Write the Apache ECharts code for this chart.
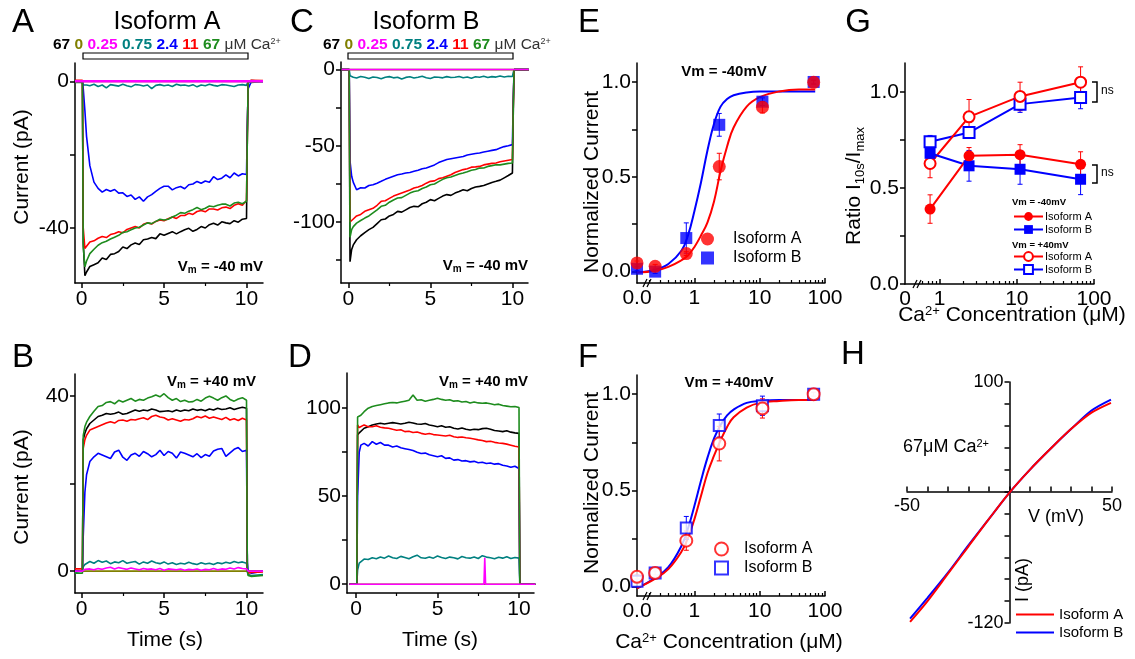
<!DOCTYPE html>
<html><head><meta charset="utf-8">
<script src="https://cdn.jsdelivr.net/npm/echarts@6/dist/echarts.min.js"></script>
<style>html,body{margin:0;padding:0;background:#fff}#c{width:1135px;height:659px}</style>
</head><body><div id="c"></div>
<script>
// ---------------- DATA ----------------
// time base for current traces (s)
const tTrace = [-0.4, 0.05, 0.1, 0.2, 0.3, 0.5, 0.75, 1, 1.25, 1.5, 1.75, 2, 2.25, 2.5, 2.75, 3, 3.25, 3.5, 3.75, 4, 4.25, 4.5, 4.75, 5, 5.25, 5.5, 5.75, 6, 6.25, 6.5, 6.75, 7, 7.25, 7.5, 7.75, 8, 8.25, 8.5, 8.75, 9, 9.25, 9.5, 9.75, 10, 10.05, 10.1, 10.3, 11];
const tFlat = [-0.4, 11];
const flatZero = [0, 0];
const caLabels = ['67', '0', '0.25', '0.75', '2.4', '11', '67'];

// Panel A: Isoform A, Vm = -40 mV (pA)
const aBlack = [0, 0, -44, -53, -52, -50.5, -50, -49.5, -48.2, -48.6, -47.2, -47, -46.4, -45.2, -45.6, -44.6, -44.1, -44.5, -43.2, -43, -42.6, -42.9, -41.6, -42, -41.5, -41, -41.6, -41, -40.5, -40.1, -40.9, -40.4, -39.6, -40, -39.1, -38.7, -39.2, -38.3, -38.6, -38.8, -38, -38.4, -37.6, -37.4, -15, 0, 0.2, 0];
const aRed = [0.3, 0.3, -40, -45.6, -45, -43.8, -43.5, -42.8, -42.3, -42.6, -41.8, -41.5, -41, -41.3, -40.4, -40, -39.6, -40, -39, -38.6, -38.9, -38.2, -37.8, -38, -37.5, -37, -37.4, -36.6, -36.6, -36, -36.3, -35.5, -35.2, -35.6, -34.8, -34.8, -35.1, -34.5, -34.3, -34.7, -33.8, -33.4, -33.8, -32.5, -15, 0, 0.3, 0.2];
const aGreen = [-0.3, -0.3, -45, -50.6, -49, -47, -45.8, -44.7, -44, -43.6, -43, -42.5, -42, -41.2, -41, -40.5, -40, -39.8, -39.2, -38.6, -38.8, -38.2, -37.6, -37.8, -37.6, -37, -36.5, -35.8, -36, -35.4, -35, -34.4, -35, -34.6, -34, -34.2, -33.8, -33.5, -33.5, -34, -33.2, -33, -33.4, -32.7, -15, 0, -0.3, 0];
const aBlue = [0, 0, -2, -8, -15, -23, -27.5, -29.2, -30.2, -29.5, -30, -29.5, -30.5, -30.4, -31.4, -31, -32.2, -31.5, -32.7, -31.5, -30.9, -30, -29.2, -28.6, -28.6, -29.6, -29, -28.7, -29.3, -28.2, -28, -27.3, -27.8, -27.2, -27.5, -26, -26.8, -26.4, -25.5, -26.3, -25, -25.8, -25.2, -25.4, -12, -2, 0, 0];
const aTeal = [0, -0.3, -1, -1.2, -1, -1.2, -0.8, -1.4, -1, -1.8, -0.9, -1.1, -1.3, -0.8, -1.2, -1.5, -0.9, -1, -1.3, -1, -2, -1.1, -0.9, -1.2, -1, -1.4, -0.8, -1.1, -1, -1.3, -0.9, -1.5, -1, -1.2, -0.8, -1.1, -1.3, -0.9, -1, -1.2, -1.4, -1, -0.9, -1.1, -0.5, 0, 0, 0];

// Panel B: Isoform A, Vm = +40 mV (pA)
const bBlack = [0, 0, 30, 31.5, 32.5, 33.7, 34.5, 35.3, 35.6, 36, 35.8, 36, 36.3, 35.8, 36, 36.4, 36.8, 36.5, 36.8, 36.6, 37, 36.8, 36.4, 36.5, 36.6, 36.4, 36.8, 36.5, 36.8, 36.6, 37, 36.7, 36.9, 36.6, 37, 36.8, 37.2, 36.9, 37, 37.3, 36.9, 37.2, 37.4, 37.2, 0, 0, 0, 0];
const bRed = [0.5, 0.5, 28, 30, 31, 32.2, 32.6, 33, 33.4, 33.8, 34.1, 33.8, 34.4, 34.5, 34.2, 34.6, 34.5, 34.8, 35, 34.6, 35.3, 35.6, 35.2, 35, 34.5, 34.8, 34.5, 34.2, 34.6, 34.5, 34.8, 35.3, 35, 35.4, 34.9, 35.2, 34.9, 34.6, 35.1, 34.5, 34.8, 34.4, 34.9, 34.5, 0, -0.5, -0.3, -0.2];
const bGreen = [-0.5, -0.5, 31, 33, 34, 35.3, 36.5, 37.6, 37.8, 38.5, 38.7, 38.2, 39, 38.6, 39, 39.4, 38.8, 39.2, 39, 39.5, 39.8, 40.2, 39.8, 40.5, 39.6, 39, 39.4, 38.7, 39, 38.6, 38.7, 39.2, 38.8, 39.5, 39.9, 39.5, 39, 39.6, 40, 39.2, 38.8, 39.3, 39.6, 39, 0, -1, -1.2, -1];
const bBlue = [0, 0, 8, 18, 22, 25, 26.1, 26.9, 26.5, 26.1, 25.7, 27.2, 27.6, 26, 25.3, 26.5, 26.9, 26.2, 27.3, 26.8, 26.1, 26.6, 27.6, 26.4, 27.3, 26.9, 25.8, 27.2, 26.9, 26.5, 26.1, 26.8, 25.9, 26.6, 26.2, 27.4, 27.8, 28, 26.2, 27, 27.8, 28.2, 27.3, 27.6, 2, 0, -0.5, 0];
const bTeal = [-0.3, 0, 1, 1.5, 1.8, 2.2, 1.8, 2.4, 2, 2.3, 1.7, 2.1, 1.9, 2.4, 1.8, 2, 2.2, 1.6, 2.1, 1.8, 2.3, 1.9, 1.7, 2.1, 1.6, 1.9, 1.5, 1.8, 1.6, 2, 1.7, 1.5, 1.9, 1.6, 1.8, 1.5, 1.9, 1.7, 2, 1.8, 2.2, 1.9, 2.1, 1.8, 0, -0.8, -1, -0.8];
const bMagenta = [0, 0, 0.3, 0.4, 0.5, 0.5, 0.3, 0.6, 0.4, 0.7, 0.9, 0.5, 0.8, 0.6, 0.4, 0.7, 0.5, 0.3, 0.6, 0.4, 0.5, 0.3, 0.6, 0.2, 0.5, 0.4, 0.3, 0.5, 0.2, 0.4, 0.3, 0.5, 0.2, 0.4, 0.3, 0.6, 0.3, 0.5, 0.4, 0.7, 0.5, 0.8, 0.6, 0.5, 0.2, 0, 0, 0];

// Panel C: Isoform B, Vm = -40 mV (pA)
const cBlack = [0, 0, -126, -118, -115, -111.6, -109, -107, -105, -103.5, -101, -98.5, -98, -96, -95, -93, -93.5, -92, -90.5, -89.7, -90, -88, -87, -85.3, -86, -84.5, -83, -82, -82.5, -81, -80, -78.8, -79.5, -78, -77, -76.6, -76, -75, -74, -73.3, -72.5, -71, -69.5, -67.8, -30, 0, 0, 0];
const cRed = [0, 0, -100, -99, -98, -96, -95, -93, -92, -91, -89, -86.4, -86, -84.5, -83, -82, -81, -80, -79, -77.7, -77, -76, -74.5, -73.3, -73, -71.5, -71, -70, -69, -67.5, -66.5, -65.6, -65, -64, -63.8, -63.5, -62.5, -62, -61.5, -61.3, -60.5, -60, -59.5, -59, -25, 0, 0, 0];
const cGreen = [0, 0, -110, -105, -103, -100.7, -99, -97.4, -96, -94, -92, -89.7, -89, -87, -85.5, -84.2, -84, -82.5, -81, -80, -79.5, -78, -77, -75.5, -75, -73.5, -72, -71, -70.5, -69.5, -68.5, -67.8, -67, -66, -65.5, -64.6, -64.5, -63.5, -63, -62.4, -62.5, -62, -61.5, -61.3, -25, 0, 0, 0];
const cBlue = [0, 0, -60, -70, -74, -78.8, -77.5, -77.7, -76, -75.5, -74.5, -73.3, -72, -71, -70, -69, -68.5, -67.8, -67.5, -66.7, -66, -65, -64.5, -63.5, -62.5, -61, -60, -59, -58.5, -58, -57.5, -57, -56, -55.5, -55, -54.7, -54, -53.5, -53, -52.5, -51.5, -50.5, -50, -49.2, -20, 0, 0, 0];
const cTeal = [0, 0, -4, -5, -5, -5.5, -4.5, -5, -5.8, -4.8, -5.2, -6, -5, -4.6, -5.4, -5, -6.2, -5.1, -4.7, -5.5, -5, -4.4, -5.3, -5.8, -4.9, -5, -5.4, -4.6, -5.2, -5, -4.5, -5.3, -4.8, -5.6, -4.7, -5, -4.4, -5.2, -4.6, -4.9, -4.2, -4.8, -4.4, -4.5, -2, 0, 0, 0];

// Panel D: Isoform B, Vm = +40 mV (pA)
const dBlack = [0, 0, 84.8, 86, 87, 88.6, 89.5, 90.5, 91, 91.4, 91, 91.4, 91.8, 91.4, 91, 91.4, 92, 91.6, 91, 90.9, 91.3, 90.5, 90, 89.5, 90, 89.2, 89.5, 88.6, 88.2, 88.8, 88, 87.6, 88, 87.8, 88.4, 88.6, 88, 87.3, 87, 86.7, 87.2, 86.4, 86, 85.7, 0, 0, 0, 0];
const dRed = [0, 0, 90.5, 89, 90, 90.5, 89.5, 89.5, 90, 89.2, 88.8, 88.6, 88, 87.5, 87.8, 86.7, 86.9, 86.2, 86.5, 85.7, 85.2, 85.6, 85, 84.8, 84.5, 84.2, 84.6, 83.8, 83.4, 83.6, 83.2, 82.9, 82.5, 82, 81.6, 81, 81.2, 80.6, 80.2, 80, 79.6, 79, 78.4, 78, 0, 0, 0, 0];
const dGreen = [0, 0, 95, 94, 96, 98, 100, 101, 101.5, 102, 102.5, 103, 103.2, 103, 103.5, 104, 104.5, 107.5, 104.5, 104.8, 104, 104.5, 105, 105.7, 105, 104.5, 104.8, 104, 104.2, 103.5, 103.8, 103, 103.5, 103, 102.8, 103, 102.5, 102, 102.3, 101.5, 101.2, 100.8, 101, 100.4, 0, 0, 0, 0];
const dBlue = [0, 0, 50, 75, 79, 80, 78.5, 81, 79.5, 80.5, 79, 79, 78, 78.5, 77.5, 77, 76.5, 76, 75, 74.3, 74.5, 73.5, 73, 72.4, 73, 71.5, 71.8, 70.5, 70.8, 70, 70.2, 69.5, 69.8, 69, 69.3, 68.6, 68.9, 68.2, 68.5, 67.6, 67.2, 66.5, 67, 65.7, 0, 0, 0, 0];
const dTeal = [0, 0, 8, 12, 13, 14.3, 14, 15, 14.5, 15.5, 14.8, 16, 15, 14.6, 15.8, 15.2, 14.5, 15.6, 16.5, 15, 14.7, 15.5, 14.8, 16, 15.2, 14.6, 15.4, 15, 14.4, 15.7, 15, 14.8, 15.5, 14.6, 16.2, 15.4, 15, 14.5, 15.3, 14.8, 15.6, 14.6, 15.2, 14.8, 0, 0, 0, 0];
const tMagD = [-0.4, 7.85, 7.9, 7.95, 11];
const dMagenta = [0, 0, 15, 0, 0];

// Panels E/F: dose-response (Ca2+ in µM)
const conc = [0, 0.25, 0.75, 2.4, 11, 67];
const eA = [0.046, 0.028, 0.095, 0.554, 0.867, 0.998];
const eAerr = [0.01, 0.01, 0.01, 0.07, 0.03, 0.01];
const eB = [0.015, 0.0, 0.177, 0.774, 0.896, 1.0];
const eBerr = [0.01, 0.01, 0.08, 0.06, 0.02, 0.01];
const fA = [0.05, 0.07, 0.238, 0.743, 0.926, 1.0];
const fAerr = [0.01, 0.02, 0.05, 0.09, 0.05, 0.01];
const fB = [0.027, 0.07, 0.304, 0.837, 0.94, 1.0];
const fBerr = [0.01, 0.01, 0.06, 0.06, 0.05, 0.01];
// fitted curves (x = log10 concentration)
const fitLogC = [-0.88, -0.6, -0.4, -0.2, -0.1, 0, 0.1, 0.2, 0.3, 0.4, 0.5, 0.6, 0.8, 1.0, 1.3, 1.6, 1.85];
const eFitA = [-0.005, 0.005, 0.025, 0.06, 0.085, 0.13, 0.19, 0.26, 0.37, 0.53, 0.66, 0.76, 0.87, 0.92, 0.95, 0.96, 0.96];
const eFitB = [-0.005, 0.01, 0.04, 0.11, 0.19, 0.32, 0.47, 0.64, 0.78, 0.87, 0.91, 0.93, 0.945, 0.95, 0.95, 0.95, 0.95];
const fFitA = [-0.01, 0.04, 0.09, 0.18, 0.25, 0.35, 0.47, 0.59, 0.68, 0.76, 0.83, 0.88, 0.93, 0.955, 0.965, 0.97, 0.97];
const fFitB = [-0.01, 0.045, 0.1, 0.21, 0.3, 0.42, 0.55, 0.67, 0.77, 0.84, 0.89, 0.92, 0.955, 0.965, 0.97, 0.97, 0.97];

// Panel G: ratio I10s/Imax
const concG = [0.75, 2.4, 11, 67];
const gAneg = [0.39, 0.667, 0.673, 0.623];
const gAnegErr = [0.074, 0.043, 0.052, 0.065];
const gBneg = [0.68, 0.615, 0.597, 0.545];
const gBnegErr = [0.04, 0.08, 0.078, 0.08];
const gApos = [0.627, 0.87, 0.976, 1.05];
const gAposErr = [0.074, 0.09, 0.074, 0.08];
const gBpos = [0.74, 0.788, 0.936, 0.97];
const gBposErr = [0.033, 0.02, 0.043, 0.058];

// Panel H: I-V at 67 µM Ca2+
const vH = [-48.5, -40, -30, -20, -10, 0, 10, 20, 30, 40, 49.5];
const hA = [-119, -100, -75, -50, -25, -1, 20, 39, 57, 72, 81];
const hB = [-116, -97, -74, -49, -25, -1, 20, 39, 57, 74, 84];

// ---------------- BUILD ----------------
const FONT = 'Liberation Sans, Arial, Helvetica, sans-serif';
const COL = {black:'#000000', olive:'#808000', magenta:'#ff00ff', teal:'#008080', blue:'#0000ff', red:'#ff0000', green:'#1e8c1e'};
function zip(t, v) {
  if (t.length !== v.length) throw new Error('length mismatch ' + t.length + ' vs ' + v.length);
  return t.map((x, i) => [x, v[i]]);
}
const LOG_ZERO_EF = -0.88, LOG_ZERO_G = -0.45;
const lx = (c, z) => c === 0 ? z : Math.log10(c);

const grids = [
  {left:75, top:63, width:188, height:220},   // A
  {left:75, top:374, width:188, height:219},  // B
  {left:341, top:62, width:187, height:221},  // C
  {left:347, top:373, width:187, height:220}, // D
  {left:637, top:63, width:188, height:220},  // E
  {left:637, top:375, width:188, height:221}, // F
  {left:905, top:63, width:189, height:221},  // G
  {left:907, top:382, width:205, height:241}  // H
].map(g => Object.assign({outerBoundsMode:'none', containLabel:false}, g));

const AX = {color:'#000', width:1.5};
function mainAxis(grid, min, max, ticks, labels, o) {
  o = o || {};
  return {
    gridIndex: grid, type:'value', min, max, position: o.position, offset: o.offset || 0,
    axisLine:{show:true, onZero:false, lineStyle:AX},
    axisTick:{show:true, customValues:ticks, inside: !!o.inside, length: o.tickLen || 5, lineStyle:AX},
    axisLabel:{show:true, customValues:labels, fontSize: o.fs || 21, color:'#000', fontFamily:FONT, margin: o.margin || 6, formatter: o.fmt},
    splitLine:{show:false}
  };
}
function minorAxis(grid, min, max, ticks, inside) {
  return {
    gridIndex: grid, type:'value', min, max, position:'bottom',
    axisLine:{show:false, onZero:false},
    axisTick:{show:true, customValues:ticks, inside: !!inside, length:3, lineStyle:{color:'#000', width:1.2}},
    axisLabel:{show:false}, splitLine:{show:false}
  };
}
const logMinor = [];
[-1, 0, 1].forEach(k => { for (let m = 2; m <= 9; m++) logMinor.push(Math.log10(m) + k); });
const minorEF = logMinor.filter(v => v > -0.72);
const minorG = logMinor.filter(v => v > -0.25);
const fmtLogEF = v => v < -0.5 ? '0.0' : String(Math.round(Math.pow(10, v)));
const fmtLogG = v => v < -0.3 ? '0' : String(Math.round(Math.pow(10, v)));
const fmt1 = v => v.toFixed(1);
// H axes cross at the origin: shift them into the grid
const hGrid = grids[7];
const hYoff = -(hGrid.width * (0 - (-50)) / 100);          // y-axis line at V = 0
const hXoff = -(hGrid.height * (0 - (-120)) / 220);        // x-axis line at I = 0

const xAxis = [
  mainAxis(0, -0.4, 11, [0,5,10], [0,5,10], {position:'bottom'}),
  mainAxis(1, -0.4, 11, [0,5,10], [0,5,10], {position:'bottom'}),
  mainAxis(2, -0.45, 10.95, [0,5,10], [0,5,10], {position:'bottom'}),
  mainAxis(3, -0.55, 10.92, [0,5,10], [0,5,10], {position:'bottom'}),
  mainAxis(4, LOG_ZERO_EF, 2, [0,1,2], [LOG_ZERO_EF,0,1,2], {position:'bottom', inside:true, fmt:fmtLogEF, margin:5}),
  mainAxis(5, LOG_ZERO_EF, 2, [0,1,2], [LOG_ZERO_EF,0,1,2], {position:'bottom', inside:true, fmt:fmtLogEF, margin:5}),
  mainAxis(6, LOG_ZERO_G, 2, [0,1,2], [LOG_ZERO_G,0,1,2], {position:'bottom', inside:true, fmt:fmtLogG, margin:5}),
  mainAxis(7, -50, 50, [-50,-40,-30,-20,-10,0,10,20,30,40,50], [-50,50], {position:'bottom', offset:hXoff, inside:true, fs:18, margin:5}),
  minorAxis(0, -0.4, 11, [2.5,7.5]),
  minorAxis(1, -0.4, 11, [2.5,7.5]),
  minorAxis(2, -0.45, 10.95, [2.5,7.5]),
  minorAxis(3, -0.55, 10.92, [2.5,7.5]),
  minorAxis(4, LOG_ZERO_EF, 2, minorEF, true),
  minorAxis(5, LOG_ZERO_EF, 2, minorEF, true),
  minorAxis(6, LOG_ZERO_G, 2, minorG, true)
];
const yAxis = [
  mainAxis(0, -55, 5, [-40,-20,0], [-40,0], {position:'left'}),
  mainAxis(1, -5, 45, [0,20,40], [0,40], {position:'left'}),
  mainAxis(2, -140, 5, [-125,-100,-75,-50,-25,0], [-100,-50,0], {position:'left'}),
  mainAxis(3, -5, 120, [0,25,50,75,100], [0,50,100], {position:'left'}),
  mainAxis(4, -0.06, 1.1, [0,0.25,0.5,0.75,1], [0,0.5,1], {position:'left', fmt:fmt1}),
  mainAxis(5, -0.05, 1.1, [0,0.25,0.5,0.75,1], [0,0.5,1], {position:'left', fmt:fmt1}),
  mainAxis(6, 0, 1.15, [0,0.25,0.5,0.75,1], [0,0.5,1], {position:'left', fmt:fmt1}),
  mainAxis(7, -120, 100, [-120,-100,-80,-60,-40,-20,0,20,40,60,80,100], [-120,100], {position:'left', offset:hYoff, fs:18, margin:6})
];

const series = [];
function trace(gi, t, v, color, w) {
  series.push({type:'line', xAxisIndex:gi, yAxisIndex:gi, data:zip(t, v), showSymbol:false, symbol:'none',
    lineStyle:{color, width: w || 1.6}, silent:true, z:2});
}
// A
trace(0, tTrace, aBlack, COL.black); trace(0, tFlat, flatZero, COL.olive); trace(0, tTrace, aTeal, COL.teal);
trace(0, tTrace, aBlue, COL.blue); trace(0, tTrace, aRed, COL.red); trace(0, tTrace, aGreen, COL.green);
trace(0, tFlat, flatZero, COL.magenta, 2.5);
// B
trace(1, tTrace, bBlack, COL.black); trace(1, tFlat, flatZero, COL.olive); trace(1, tTrace, bTeal, COL.teal);
trace(1, tTrace, bBlue, COL.blue); trace(1, tTrace, bRed, COL.red); trace(1, tTrace, bGreen, COL.green);
trace(1, tTrace, bMagenta, COL.magenta);
// C
trace(2, tTrace, cBlack, COL.black); trace(2, tFlat, flatZero, COL.olive); trace(2, tTrace, cTeal, COL.teal);
trace(2, tTrace, cBlue, COL.blue); trace(2, tTrace, cRed, COL.red); trace(2, tTrace, cGreen, COL.green);
trace(2, tFlat, flatZero, COL.magenta, 1.5);
// D
trace(3, tTrace, dBlack, COL.black); trace(3, tFlat, flatZero, COL.olive); trace(3, tTrace, dTeal, COL.teal);
trace(3, tTrace, dBlue, COL.blue); trace(3, tTrace, dRed, COL.red); trace(3, tTrace, dGreen, COL.green);
trace(3, tMagD, dMagenta, COL.magenta);

function errBars(gi, xs, ys, es, color, z) {
  const data = xs.map((x, i) => [x, ys[i], es[i]]);
  series.push({type:'custom', xAxisIndex:gi, yAxisIndex:gi, data, silent:true, z: z || 3,
    encode:{x:0, y:1},
    renderItem: (params, api) => {
      const x = api.value(0), y = api.value(1), e = api.value(2);
      const p1 = api.coord([x, y + e]), p2 = api.coord([x, y - e]); const w = 2.5;
      const st = {stroke:color, lineWidth:1};
      return {type:'group', children:[
        {type:'line', shape:{x1:p1[0], y1:p1[1], x2:p2[0], y2:p2[1]}, style:st},
        {type:'line', shape:{x1:p1[0]-w, y1:p1[1], x2:p1[0]+w, y2:p1[1]}, style:st},
        {type:'line', shape:{x1:p2[0]-w, y1:p2[1], x2:p2[0]+w, y2:p2[1]}, style:st}]};
    }});
}
function curve(gi, xs, ys, color) {
  series.push({type:'line', xAxisIndex:gi, yAxisIndex:gi, data:zip(xs, ys), smooth:0.4, showSymbol:false, symbol:'none',
    lineStyle:{color, width:2}, silent:true, z:2});
}
function scatter(gi, name, xs, ys, symbol, size, color) {
  series.push({type:'scatter', name, xAxisIndex:gi, yAxisIndex:gi, data:zip(xs, ys), symbol, symbolSize:size,
    itemStyle:{color, borderColor:color, borderWidth: symbol.startsWith('empty') ? 1.3 : 0}, z:4});
}
const xEF = conc.map(c => lx(c, LOG_ZERO_EF));
// E
curve(4, fitLogC, eFitB, COL.blue); curve(4, fitLogC, eFitA, COL.red);
errBars(4, xEF, eB, eBerr, COL.blue); errBars(4, xEF, eA, eAerr, COL.red);
scatter(4, 'E: Isoform B', xEF, eB, 'rect', 12, COL.blue);
scatter(4, 'E: Isoform A', xEF, eA, 'circle', 13, COL.red);
// F
curve(5, fitLogC, fFitB, COL.blue); curve(5, fitLogC, fFitA, COL.red);
errBars(5, xEF, fB, fBerr, COL.blue); errBars(5, xEF, fA, fAerr, COL.red);
scatter(5, 'F: Isoform B', xEF, fB, 'emptyRect', 11, COL.blue);
scatter(5, 'F: Isoform A', xEF, fA, 'emptyCircle', 12, COL.red);
// G
const xG = concG.map(c => lx(c, LOG_ZERO_G));
errBars(6, xG, gBpos, gBposErr, COL.blue); errBars(6, xG, gApos, gAposErr, COL.red);
errBars(6, xG, gBneg, gBnegErr, COL.blue); errBars(6, xG, gAneg, gAnegErr, COL.red);
function gLine(name, ys, symbol, color) {
  series.push({type:'line', name, xAxisIndex:6, yAxisIndex:6, data:zip(xG, ys), symbol, symbolSize:11, showSymbol:true,
    lineStyle:{color, width:2}, itemStyle:{color, borderColor:color, borderWidth: symbol.startsWith('empty') ? 1.5 : 0}, z:4});
}
gLine('G+: Isoform B', gBpos, 'emptyRect', COL.blue);
gLine('G+: Isoform A', gApos, 'emptyCircle', COL.red);
gLine('G-: Isoform B', gBneg, 'rect', COL.blue);
gLine('G-: Isoform A', gAneg, 'circle', COL.red);
// H
series.push({type:'line', name:'H: Isoform B', xAxisIndex:7, yAxisIndex:7, data:zip(vH, hB), smooth:0.3, showSymbol:false, symbol:'none', lineStyle:{color:COL.blue, width:2}, itemStyle:{color:COL.blue}});
series.push({type:'line', name:'H: Isoform A', xAxisIndex:7, yAxisIndex:7, data:zip(vH, hA), smooth:0.3, showSymbol:false, symbol:'none', lineStyle:{color:COL.red, width:2}, itemStyle:{color:COL.red}});

const stripName = n => n.split(': ')[1];
function legend(left, top, names, o) {
  const l = {orient:'vertical', left, top, data:names, formatter:stripName, selectedMode:false,
    textStyle:{fontFamily:FONT, color:'#000', fontSize:o.fs, padding:o.pad || 0}, itemGap:o.gap, itemWidth:o.iw, itemHeight:o.ih, padding:0};
  if (o.noSymbol) l.itemStyle = {opacity:0};
  return l;
}
const legends = [
  legend(701, 231, ['E: Isoform A', 'E: Isoform B'], {fs:16, gap:3, iw:13, ih:13, pad:[0,0,0,14]}),
  legend(714, 541, ['F: Isoform A', 'F: Isoform B'], {fs:16, gap:3, iw:13, ih:13, pad:[0,0,0,11]}),
  legend(1013, 211, ['G-: Isoform A', 'G-: Isoform B'], {fs:11, gap:2, iw:29, ih:11, pad:[0,0,0,-3]}),
  legend(1013, 251, ['G+: Isoform A', 'G+: Isoform B'], {fs:11, gap:2, iw:29, ih:11, pad:[0,0,0,-3]}),
  legend(1015, 607, ['H: Isoform A', 'H: Isoform B'], {fs:15, gap:3, iw:38, ih:12, noSymbol:true})
];

// ---------------- TEXT / ANNOTATIONS ----------------
function txt(x, y, text, o) {
  o = o || {};
  return {type:'text', x, y, rotation: o.rot || 0, silent:true, z:10,
    style:{text, fontFamily:FONT, fontSize:o.fs || 21, fontWeight:o.fw || 'normal', fill:o.fill || '#000',
      align:o.align || 'center', textAlign:o.align || 'center', verticalAlign:o.va || 'middle', textVerticalAlign:o.va || 'middle', rich:o.rich}};
}
const supRich = fs => ({n:{fontSize:fs, fontFamily:FONT, fill:'#000'}, s:{fontSize:Math.round(fs*0.6), fontFamily:FONT, fill:'#000', verticalAlign:'top'}});
const concColors = [COL.black, COL.olive, COL.magenta, COL.teal, COL.blue, COL.red, COL.green];
function concRow(x, y) {
  const rich = {u:{fontSize:15.5, fontFamily:FONT, fill:'#333', fontWeight:'normal'}, s:{fontSize:9, fontFamily:FONT, fill:'#333', verticalAlign:'top'}};
  let s = '';
  caLabels.forEach((l, i) => { rich['c' + i] = {fontSize:15.5, fontWeight:'bold', fontFamily:FONT, fill:concColors[i]}; s += '{c' + i + '|' + l + '} '; });
  s += '{u|\u03BCM Ca}{s|2+}';
  return txt(x, y, s, {align:'left', fs:15.5, fw:'bold', rich});
}
function vmText(x, y, sign, align) {
  const rich = {b:{fontSize:15, fontWeight:'bold', fontFamily:FONT, fill:'#000'}, m:{fontSize:10, fontWeight:'bold', fontFamily:FONT, fill:'#000', verticalAlign:'bottom', padding:[6,0,0,0]}};
  return txt(x, y, '{b|V}{m|m}{b| = ' + sign + '40 mV}', {align, rich});
}
const graphic = [
  txt(23, 23, 'A', {fs:33}), txt(302, 23, 'C', {fs:33}), txt(589, 23, 'E', {fs:33}), txt(858, 23, 'G', {fs:33}),
  txt(23, 358, 'B', {fs:33}), txt(300, 358, 'D', {fs:33}), txt(588, 358, 'F', {fs:33}), txt(853, 355, 'H', {fs:33}),
  txt(167, 22, 'Isoform A', {fs:25}), txt(426, 22, 'Isoform B', {fs:25}),
  concRow(53, 45), concRow(323, 45),
  {type:'rect', shape:{x:83, y:53, width:165, height:6}, style:{fill:'#fff', stroke:'#000', lineWidth:1.2}, silent:true},
  {type:'rect', shape:{x:348, y:53, width:165, height:6}, style:{fill:'#fff', stroke:'#000', lineWidth:1.2}, silent:true},
  vmText(263, 267, '-', 'right'), vmText(528, 266, '-', 'right'), vmText(256, 382, '+', 'right'), vmText(528, 382, '+', 'right'),
  txt(22, 167, 'Current (pA)', {rot:Math.PI/2}), txt(22, 487, 'Current (pA)', {rot:Math.PI/2}),
  txt(165, 640, 'Time (s)'), txt(440, 640, 'Time (s)'),
  txt(592, 182, 'Normalized Current', {rot:Math.PI/2}), txt(592, 483, 'Normalized Current', {rot:Math.PI/2}),
  txt(724, 72, 'Vm = -40mV', {fs:15, fw:'bold'}), txt(729, 383, 'Vm = +40mV', {fs:15, fw:'bold'}),
  txt(729, 642, '{n|Ca}{s|2+}{n| Concentration (\u03BCM)}', {rich:supRich(21)}),
  txt(1012, 315, '{n|Ca}{s|2+}{n| Concentration (\u03BCM)}', {rich:supRich(21)}),
  txt(854, 186, '{n|Ratio I}{b|10s}{n|/I}{b|max}', {rot:Math.PI/2, rich:{n:{fontSize:21, fontFamily:FONT, fill:'#000', lineHeight:26}, b:{fontSize:13, fontFamily:FONT, fill:'#000', verticalAlign:'bottom', lineHeight:14}}}),
  txt(1012, 202, 'Vm = -40mV', {fs:9.5, fw:'bold', align:'left'}), txt(1012, 245, 'Vm = +40mV', {fs:9.5, fw:'bold', align:'left'}),
  {type:'polyline', shape:{points:[[1092,82],[1097,82],[1097,102],[1092,102]]}, style:{stroke:'#000', lineWidth:1.5, fill:null}, silent:true},
  {type:'polyline', shape:{points:[[1092,165],[1097,165],[1097,183],[1092,183]]}, style:{stroke:'#000', lineWidth:1.5, fill:null}, silent:true},
  txt(1101, 91, 'ns', {fs:12, align:'left'}), txt(1101, 173, 'ns', {fs:12, align:'left'}),
  // axis break marks
  {type:'line', shape:{x1:643, y1:287, x2:647, y2:279}, style:{stroke:'#000', lineWidth:1.3}, silent:true},
  {type:'line', shape:{x1:647, y1:287, x2:651, y2:279}, style:{stroke:'#000', lineWidth:1.3}, silent:true},
  {type:'line', shape:{x1:643, y1:600, x2:647, y2:592}, style:{stroke:'#000', lineWidth:1.3}, silent:true},
  {type:'line', shape:{x1:647, y1:600, x2:651, y2:592}, style:{stroke:'#000', lineWidth:1.3}, silent:true},
  {type:'line', shape:{x1:913, y1:288, x2:917, y2:280}, style:{stroke:'#000', lineWidth:1.3}, silent:true},
  {type:'line', shape:{x1:917, y1:288, x2:921, y2:280}, style:{stroke:'#000', lineWidth:1.3}, silent:true},
  // H texts
  txt(903, 447, '{n|67\u03BCM Ca}{s|2+}', {align:'left', rich:supRich(18)}),
  txt(1028, 517, 'V (mV)', {fs:18, align:'left'}),
  txt(1023, 580, 'I (pA)', {fs:18, rot:Math.PI/2})
];

const chart = echarts.init(document.getElementById('c'), null, {renderer:'canvas'});
chart.setOption({
  animation:false, backgroundColor:'#fff',
  textStyle:{fontFamily:FONT},
  grid:grids, xAxis, yAxis, series, legend:legends, graphic
});
</script></body></html>
